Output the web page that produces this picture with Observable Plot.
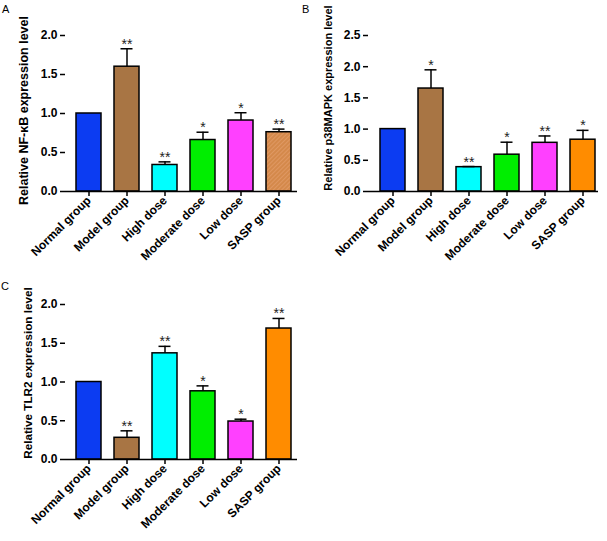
<!DOCTYPE html>
<html>
<head>
<meta charset="utf-8">
<script src="https://cdn.jsdelivr.net/npm/d3@7"></script>
<script src="https://cdn.jsdelivr.net/npm/@observablehq/plot@0.6"></script>
<style>
  html, body { margin: 0; padding: 0; background: #fff; }
  #page { position: relative; width: 607px; height: 541px; background: #fff; overflow: hidden; }
  .panel { position: absolute; }
  .letter { position: absolute; font-family: 'Liberation Sans', Arial, sans-serif; font-size: 11px; color: #000; }
</style>
</head>
<body>
<svg width="0" height="0" style="position:absolute">
  <defs>
    <pattern id="hatchA" patternUnits="userSpaceOnUse" width="3" height="3" patternTransform="rotate(45)">
      <rect width="3" height="3" fill="#d4894b"></rect>
      <line x1="0" y1="0" x2="0" y2="3" stroke="#eaa878" stroke-width="1"></line>
    </pattern>
  </defs>
</svg>
<div id="page">
  <div class="letter" style="left:2px;top:3px">A</div>
  <div class="letter" style="left:302px;top:3px">B</div>
  <div class="letter" style="left:1px;top:280px">C</div>
  <div class="panel" id="pA" style="left:0px;top:0px"></div>
  <div class="panel" id="pB" style="left:300px;top:0px"></div>
  <div class="panel" id="pC" style="left:0px;top:280px"></div>
</div>
<script>
// ---- data ----
const categories = ["Normal group", "Model group", "High dose", "Moderate dose", "Low dose", "SASP group"];

const nfkbValues = [1.00, 1.60, 0.34, 0.66, 0.91, 0.76];
const nfkbErrors = [0, 0.23, 0.04, 0.10, 0.10, 0.04];
const nfkbStars  = ["", "**", "**", "*", "*", "**"];

const p38Values = [1.00, 1.65, 0.39, 0.59, 0.78, 0.83];
const p38Errors = [0, 0.30, 0.01, 0.20, 0.11, 0.15];
const p38Stars  = ["", "*", "**", "*", "**", "*"];

const tlr2Values = [1.00, 0.28, 1.37, 0.88, 0.49, 1.69];
const tlr2Errors = [0, 0.09, 0.09, 0.07, 0.03, 0.13];
const tlr2Stars  = ["", "**", "**", "*", "*", "**"];

const ticks2  = [0, 0.5, 1.0, 1.5, 2.0];
const ticks25 = [0, 0.5, 1.0, 1.5, 2.0, 2.5];

const colorsA  = ["#0c3cf2", "#a87544", "#00ffff", "#00ee00", "#ff40ff", "url(#hatchA)"];
const colorsBC = ["#0c3cf2", "#a87544", "#00ffff", "#00ee00", "#ff40ff", "#ff8c00"];

function makePanel(cfg) {
  const rows = categories.map((c, i) => ({
    group: c, value: cfg.values[i], err: cfg.errors[i],
    top: cfg.values[i] + cfg.errors[i], star: cfg.stars[i]
  }));
  const errRows = rows.filter(d => d.err > 0);
  return Plot.plot({
    width: cfg.width, height: cfg.height,
    marginLeft: cfg.ml, marginRight: cfg.mr, marginTop: cfg.mt, marginBottom: cfg.mb,
    style: {fontFamily: "'Liberation Sans', Arial, sans-serif", fontSize: "12px", fontWeight: "bold", color: "black", background: "transparent", overflow: "visible"},
    x: {domain: categories, paddingInner: 0.337, paddingOuter: cfg.po, align: cfg.align, axis: null},
    y: {domain: [0, cfg.yMax], axis: null},
    color: {domain: categories, range: cfg.colors},
    marks: [
      Plot.barY(rows, {x: "group", y: "value", fill: "group", stroke: "black", strokeWidth: 1.5}),
      Plot.ruleX(errRows, {x: "group", y1: "value", y2: "top", stroke: "black", strokeWidth: 1.5}),
      Plot.tickY(errRows, {x: "group", y: "top", stroke: "black", strokeWidth: 1.5, insetLeft: 6.5, insetRight: 6.5}),
      Plot.text(rows, {x: "group", y: "top", text: "star", lineAnchor: "bottom", dy: 0, fontSize: 14, fontWeight: "normal", fill: "#222"}),
      Plot.axisY({ticks: cfg.yTicks, tickFormat: d3.format(".1f"), tickSize: 5, tickPadding: 3, strokeWidth: 1.5, label: null, line: true}),
      Plot.axisX({tickSize: 5, tickPadding: 2, tickRotate: -45, strokeWidth: 1.5, label: null}),
      Plot.ruleY([0], {stroke: "black", strokeWidth: 1.5}),
      Plot.text([cfg.title], {frameAnchor: "left", textAnchor: "middle", lineAnchor: "middle", rotate: -90, dx: cfg.tdx, dy: cfg.tdy, fontSize: cfg.tfs, fontWeight: "bold", fill: "black"})
    ]
  });
}

document.getElementById("pA").append(makePanel({
  values: nfkbValues, errors: nfkbErrors, stars: nfkbStars, yMax: 2, yTicks: ticks2, colors: colorsA,
  width: 300, height: 275, ml: 65, mr: 3, mt: 35, mb: 84, po: 0.15, align: 0.68,
  title: "Relative NF-κB expression level", tdx: -42, tdy: -3, tfs: 12.5
}));
document.getElementById("pB").append(makePanel({
  values: p38Values, errors: p38Errors, stars: p38Stars, yMax: 2.5, yTicks: ticks25, colors: colorsBC,
  width: 307, height: 275, ml: 68, mr: 9, mt: 35, mb: 84, po: 0.13, align: 0.8,
  title: "Relative p38MAPK expression level", tdx: -40, tdy: -15.5, tfs: 11
}));
document.getElementById("pC").append(makePanel({
  values: tlr2Values, errors: tlr2Errors, stars: tlr2Stars, yMax: 2, yTicks: ticks2, colors: colorsBC,
  width: 300, height: 261, ml: 65, mr: 3, mt: 24, mb: 82, po: 0.15, align: 0.68,
  title: "Relative TLR2 expression level", tdx: -37, tdy: -9, tfs: 11.7
}));
</script>
</body>
</html>
